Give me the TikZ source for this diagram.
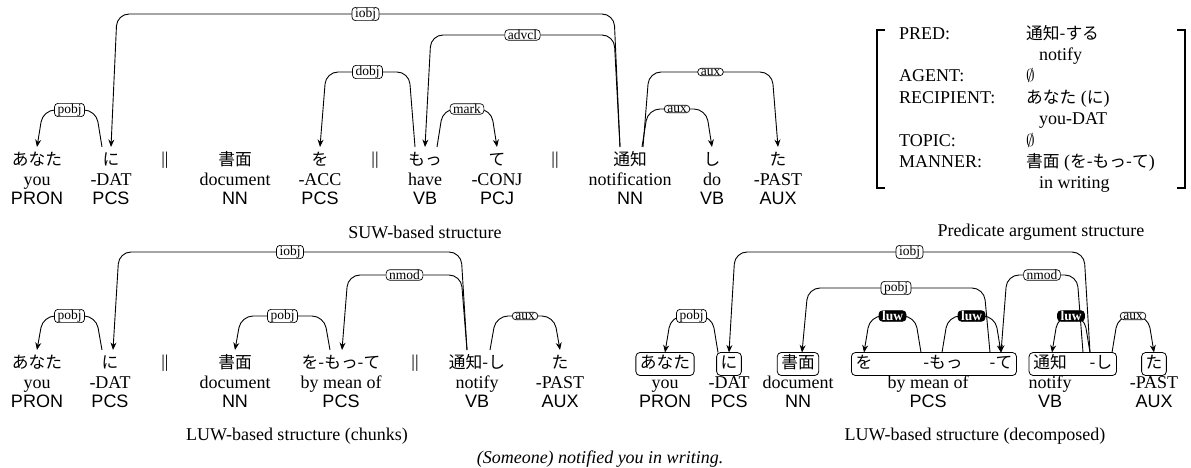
\documentclass[tikz,border=0pt]{standalone}
\usepackage{fontspec}
\setmainfont{Liberation Serif}
\setsansfont{Liberation Sans}
\newfontfamily\jpfont[Scale=0.93]{Noto Sans CJK JP}
\usetikzlibrary{arrows.meta,calc,fit,positioning}

\newcommand\wsize{\fontsize{18}{21.4}\selectfont}
\newcommand\lsize{\fontsize{13.5}{15}\selectfont}

\tikzset{
  jp/.style={font=\wsize\jpfont, inner sep=0pt, text height=13pt, text depth=4pt, outer ysep=5.5pt},
  gloss/.style={font=\wsize, inner sep=0pt, text height=13pt, text depth=4pt},
  tag/.style={font=\wsize\sffamily, inner sep=0pt, text height=13pt, text depth=4pt},
  jpbox/.style={jp, draw, line width=0.8pt, rounded corners=4pt, inner xsep=4pt, inner ysep=3pt, outer ysep=0pt},
  jppart/.style={jp, outer ysep=3pt},
  chunk/.style={draw, line width=0.8pt, rounded corners=4pt, inner xsep=4pt, inner ysep=0pt},
  dep/.style={-{Stealth[length=7.5pt,width=6pt]}, rounded corners=12pt, line width=0.9pt},
  lab/.style={draw, fill=white, rounded corners=3.5pt, inner xsep=3pt, inner ysep=0.5pt, font=\lsize, line width=0.7pt},
  luw/.style={lab, fill=black, text=white, font=\lsize\bfseries},
  caption/.style={font=\wsize, inner sep=0pt},
  bracket/.style={line width=1.2pt}
}

% word with gloss and tag
\newcommand\word[6][jp]{%
  \node[#1] (#2) at (#3) {#4};
  \node[gloss, below=20pt of #2] (#2e) {#5};
  \node[tag, below=19pt of #2e] (#2p) {#6};}

% arc from head to dependent
\newcommand\deplink[5][lab]{%
  \draw[dep] let \p1=($(#2)!6pt!(#3)$), \p2=($(#3)!6pt!(#2)$) in
    (#2) -- (\x1,-#4pt) -- node[#1]{#5} (\x2,-#4pt) -- (#3);}

\begin{document}
\begin{tikzpicture}[x=1pt, y=-1pt, on grid]
  \useasboundingbox (0,0) rectangle (1191,468);

  % SUW-based structure
  \word{w1}{37,161}{あなた}{you}{PRON}
  \word{w2}{111,161}{に}{-DAT}{PCS}
  \word{w3}{235,161}{書面}{document}{NN}
  \word{w4}{320,161}{を}{-ACC}{PCS}
  \word{w5}{425,161}{もっ}{have}{VB}
  \word{w6}{497,161}{て}{-CONJ}{PCJ}
  \word{w7}{630,161}{通知}{notification}{NN}
  \word{w8}{712,161}{し}{do}{VB}
  \word{w9}{778,161}{た}{-PAST}{AUX}
  \node[gloss] (s1) at (165,160) {||};
  \node[gloss] (s2) at (375,160) {||};
  \node[gloss] (s3) at (555,160) {||};

  \deplink{[xshift=-9pt]w2.north}{w1.north}{110}{pobj}
  \deplink{[xshift=-10pt]w7.north}{w2.north}{14}{iobj}
  \deplink{[xshift=-10pt]w5.north}{w4.north}{72}{dobj}
  \deplink{[xshift=-10pt]w7.north}{w5.north}{35}{advcl}
  \deplink{[xshift=12pt]w5.north}{w6.north}{109}{mark}
  \deplink{[xshift=12pt]w7.north}{w8.north}{109}{aux}
  \deplink{[xshift=13pt]w7.north}{w9.north}{72}{aux}

  \node[caption] (c1) at (425,232) {SUW-based structure};

  % predicate argument structure
  \node[font=\wsize, inner sep=0pt, anchor=north west] (pas) at (899,24) {%
    \begin{tabular}{@{}p{127pt}@{}l@{}}
      PRED: & {\jpfont 通知-する}\\
      & \hspace{13pt}notify\\
      AGENT: & $\emptyset$\\
      RECIPIENT: & {\jpfont あなた} ({\jpfont に})\\
      & \hspace{13pt}you-DAT\\
      TOPIC: & $\emptyset$\\
      MANNER: & {\jpfont 書面} ({\jpfont を-もっ-て})\\
      & \hspace{13pt}in writing
    \end{tabular}};
  \draw[bracket] (885,30) -| (877,188) -- (885,188);
  \draw[bracket] (1177,30) -| (1185,188) -- (1177,188);
  \node[caption] (c2) at (1041,232) {Predicate argument structure};

  % LUW-based structure (chunks)
  \word{v1}{37,364}{あなた}{you}{PRON}
  \word{v2}{110,364}{に}{-DAT}{PCS}
  \word{v3}{235,364}{書面}{document}{NN}
  \word{v4}{341,364}{を-もっ-て}{by mean of}{PCS}
  \word{v5}{477,364}{通知-し}{notify}{VB}
  \word{v6}{560,364}{た}{-PAST}{AUX}
  \node[gloss] (s4) at (165,363) {||};
  \node[gloss] (s5) at (415,363) {||};

  \deplink{[xshift=-8pt]v2.north}{v1.north}{316}{pobj}
  \deplink{[xshift=-10pt]v5.north}{[xshift=3pt]v2.north}{252}{iobj}
  \deplink{[xshift=-11pt]v4.north}{v3.north}{316}{pobj}
  \deplink{[xshift=-10pt]v5.north}{[xshift=1pt]v4.north}{275}{nmod}
  \deplink{[xshift=13pt]v5.north}{v6.north}{316}{aux}

  \node[caption] (c3) at (297,436) {LUW-based structure (chunks)};

  % LUW-based structure (decomposed)
  \word[jpbox]{u1}{665,364}{あなた}{you}{PRON}
  \word[jpbox]{u2}{729,364}{に}{-DAT}{PCS}
  \word[jpbox]{u3}{798,364}{書面}{document}{NN}
  \node[jppart] (u4a) at (864,364) {を};
  \node[jppart] (u4b) at (943,364) {-もっ};
  \node[jppart] (u4c) at (1001,364) {-て};
  \node[chunk, fit=(u4a)(u4b)(u4c)] (u4) {};
  \node[gloss] (u4e) at (928,384) {by mean of};
  \node[tag, below=19pt of u4e] (u4p) {PCS};
  \word[jppart]{u5a}{1050,364}{通知}{notify}{VB}
  \node[jppart] (u5b) at (1101,364) {-し};
  \node[chunk, fit=(u5a)(u5b)] (u5) {};
  \word[jpbox]{u6}{1154,364}{た}{-PAST}{AUX}

  \deplink{[xshift=-11pt]u2.north}{u1.north}{316}{pobj}
  \deplink{[xshift=-11pt]u5b.north}{u2.north}{252}{iobj}
  \deplink{[xshift=-11pt]u4c.north}{[xshift=4pt]u3.north}{288}{pobj}
  \deplink[luw]{[xshift=-22pt]u4b.north}{u4a.north}{316}{luw}
  \deplink[luw]{[xshift=-1pt]u4b.north}{u4c.north}{316}{luw}
  \deplink{[xshift=-18pt]u5b.north}{u4c.north}{275}{nmod}
  \deplink[luw]{[xshift=-11pt]u5b.north}{[xshift=2pt]u5a.north}{316}{luw}
  \deplink{[xshift=11pt]u5b.north}{u6.north}{316}{aux}

  \node[caption] (c4) at (975,436) {LUW-based structure (decomposed)};
  \node[caption] (c5) at (600,459) {\textit{(Someone) notified you in writing.}};
\end{tikzpicture}
\end{document}
